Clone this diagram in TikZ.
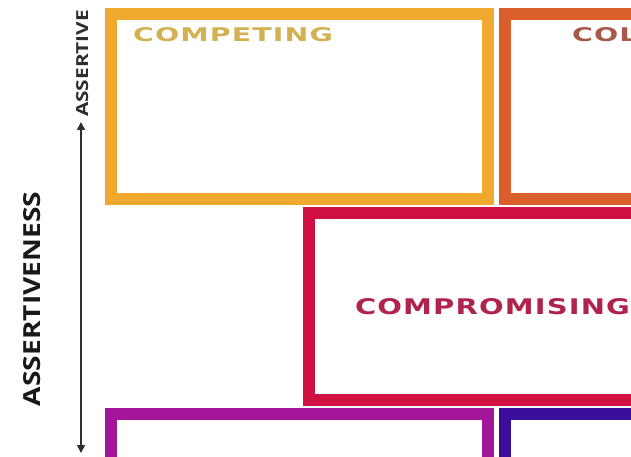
\documentclass[tikz,border=0pt]{standalone}
\usepackage{fontspec}
\usetikzlibrary{arrows.meta}
\newfontfamily\lblfont[LetterSpace=4]{DejaVu Sans}
\newfontfamily\axfont{Open Sans}
\definecolor{compB}{HTML}{F0A92E}
\definecolor{collB}{HTML}{DA5F2B}
\definecolor{promB}{HTML}{D11144}
\definecolor{avoiB}{HTML}{A3169C}
\definecolor{accoB}{HTML}{3B0F9A}
\definecolor{compT}{HTML}{D3B050}
\definecolor{collT}{HTML}{A85A4A}
\definecolor{promT}{HTML}{B0234C}
\definecolor{axisC}{HTML}{2E2E2E}
\newlength\myCw
\newlength\myCh
\tikzset{
  stylebox/.style={draw=#1, line width=12pt, rectangle, inner sep=0pt, outer sep=0pt, fill=none},
  label/.style={inner sep=0pt, outer sep=0pt, anchor=base west},
}
\begin{document}
\settowidth{\myCw}{\lblfont\bfseries COMPETING}%
\settoheight{\myCh}{\lblfont\bfseries COMPETING}%
\pgfmathsetmacro\sxA{200/\myCw}%
\pgfmathsetmacro\syA{14/\myCh}%
\begin{tikzpicture}[x=1pt, y=-1pt]
\useasboundingbox (0,0) rectangle (631,457);
\fill[white] (0,0) rectangle (631,457);
\begin{scope}
\clip (0,0) rectangle (631,457);
% boxes
\node[stylebox=compB, minimum width=377pt, minimum height=185pt] (competing) at (299.5,106.5) {};
\node[stylebox=collB, minimum width=495pt, minimum height=185pt] (collaborating) at (752,106.5) {};
\node[stylebox=promB, minimum width=692pt, minimum height=187pt] (compromising) at (654.5,306) {};
\node[stylebox=avoiB, minimum width=377pt, minimum height=286pt] (avoiding) at (299.5,557) {};
\node[stylebox=accoB, minimum width=495pt, minimum height=286pt] (accommodating) at (752,557) {};
% labels
\node[label, text=compT] (competingtext) at (133,42) {\resizebox{200pt}{14pt}{\lblfont\bfseries COMPETING}};
\node[label, text=collT] (collaboratingtext) at (572,42) {\scalebox{\sxA}[\syA]{\lblfont\bfseries COLLABORATING}};
\node[label, text=promT] (compromisingtext) at (355,314) {\resizebox{275pt}{16pt}{\lblfont\bfseries COMPROMISING}};
\end{scope}
% axis
\coordinate (axtop) at (81,122);
\coordinate (axbot) at (81,453);
\draw[axisC, line width=1.5pt, {Triangle[length=8pt,width=8pt]}-{Triangle[length=8pt,width=8pt]}] (axtop) -- (axbot);
\node[label, rotate=90, text=axisC] (assertive) at (88,117) {\resizebox{107pt}{12pt}{\axfont\bfseries ASSERTIVE}};
\node[label, rotate=90, text=black!90] (assertiveness) at (40,406) {\resizebox{214pt}{17pt}{\axfont\bfseries ASSERTIVENESS}};
\end{tikzpicture}
\end{document}
